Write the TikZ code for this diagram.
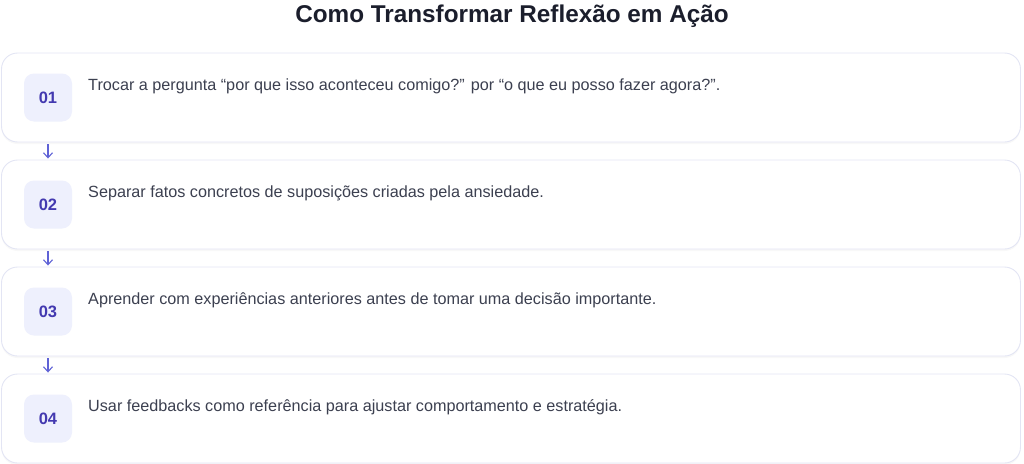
\documentclass[tikz,border=0pt]{standalone}
\usepackage{fontspec}
\setmainfont{Liberation Sans}
\usepackage{xcolor}
\usepackage{tikz}
\usetikzlibrary{arrows.meta,shadows}

\definecolor{cardline}{HTML}{E3E5F4}
\definecolor{badgefill}{HTML}{EEF0FD}
\definecolor{badgetext}{HTML}{4339B0}
\definecolor{bodytext}{HTML}{3C4050}
\definecolor{titletext}{HTML}{1B1E2C}
\definecolor{arrowcol}{HTML}{5F62D6}

\tikzset{
	card/.style={draw=cardline, line width=0.9pt, fill=white, rounded corners=16pt,
		minimum width=1019pt, minimum height=89pt, inner sep=0pt,
		drop shadow={opacity=0.06, shadow xshift=0pt, shadow yshift=-2pt}},
	badge/.style={fill=badgefill, rounded corners=10pt, minimum width=48pt,
		minimum height=48pt, inner sep=0pt, text=badgetext,
		font=\fontsize{16.5}{20}\selectfont\bfseries},
	steptext/.style={anchor=west, inner sep=0pt, text=bodytext,
		font=\fontsize{16.2}{19}\selectfont},
	flow/.style={draw=arrowcol, line width=1.1pt, -{Straight Barb[length=5pt,width=9pt]}}
}

\begin{document}
\begin{tikzpicture}[x=1pt, y=-1pt]

\useasboundingbox (0,0) rectangle (1024,463);

\node[font=\fontsize{24.3}{28}\selectfont\bfseries, text=titletext] (title) at (512,16)
	{Como Transformar Reflexão em Ação};

\foreach \n/\txt in {
	1/{Trocar a pergunta “por que isso aconteceu comigo?” por “o que eu posso fazer agora?”.},
	2/{Separar fatos concretos de suposições criadas pela ansiedade.},
	3/{Aprender com experiências anteriores antes de tomar uma decisão importante.},
	4/{Usar feedbacks como referência para ajustar comportamento e estratégia.}}{

	\pgfmathsetmacro{\cy}{97.5+107*(\n-1)}

	\node[card] (card\n) at (511,\cy) {};
	\node[badge] (badge\n) at (48,\cy) {0\n};
	\node[steptext] (text\n) at (88,\cy-11) {\txt};
}

% setas entre os passos
\foreach \a/\b in {1/2,2/3,3/4}{
	\draw[flow] ([yshift=-2pt]card\a.south -| badge\a) -- ([yshift=1pt]card\b.north -| badge\b);
}

\end{tikzpicture}
\end{document}
